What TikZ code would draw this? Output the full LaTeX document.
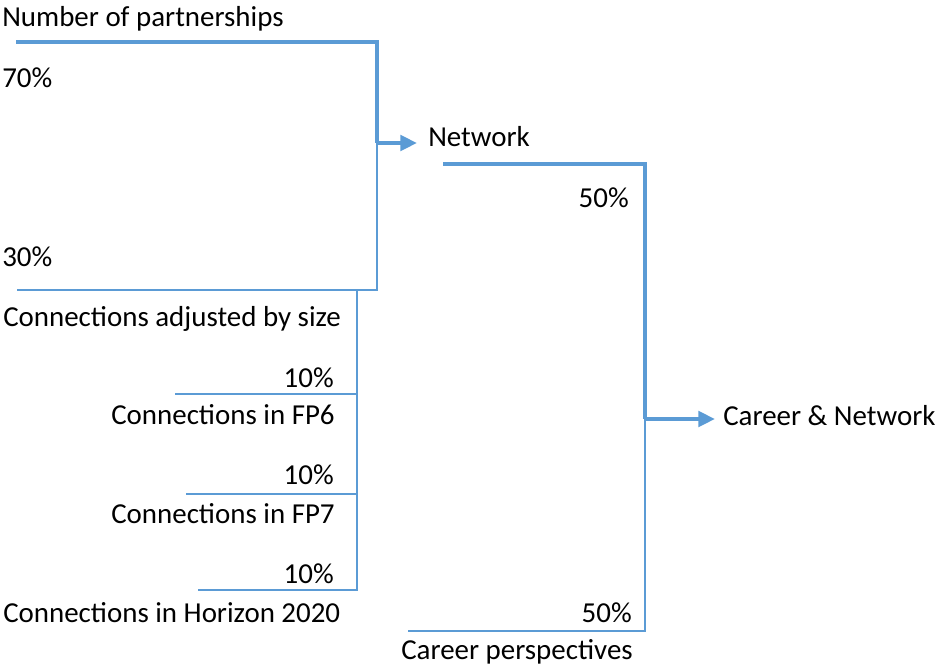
\documentclass[tikz,border=0pt]{standalone}
\usepackage{fontspec}
\setmainfont{Carlito}
\usetikzlibrary{arrows.meta}
\definecolor{linkblue}{HTML}{5B9BD5}
\begin{document}
\begin{tikzpicture}[x=0.75pt,y=-0.75pt,
  lbl/.style={inner sep=0pt,font=\fontsize{21.7}{26}\selectfont},
  strong/.style={draw=linkblue,line width=3pt},
  weak/.style={draw=linkblue,line width=1.2pt},
  tip/.style={-{Triangle[length=12.5pt,width=11.5pt]}}]
\useasboundingbox (0,0) rectangle (937,668);

% labels
\node[lbl,anchor=base west] (np)  at (2,26)   {Number of partnerships};
\node[lbl,anchor=base west] (p70) at (2,87)   {70\%};
\node[lbl,anchor=base west] (p30) at (2,266)  {30\%};
\node[lbl,anchor=base west] (cas) at (3,326)  {Connections adjusted by size};
\node[lbl,anchor=base east] (t1)  at (334,387) {10\%};
\node[lbl,anchor=base east] (fp6) at (335,424) {Connections in FP6};
\node[lbl,anchor=base east] (t2)  at (334,484) {10\%};
\node[lbl,anchor=base east] (fp7) at (335,523) {Connections in FP7};
\node[lbl,anchor=base east] (t3)  at (334,583) {10\%};
\node[lbl,anchor=base west] (h20) at (3,622)  {Connections in Horizon 2020};
\node[lbl,anchor=base west] (net) at (428,146) {Network};
\node[lbl,anchor=base east] (f1)  at (629,207) {50\%};
\node[lbl,anchor=base east] (f2)  at (632,622) {50\%};
\node[lbl,anchor=base west] (cp)  at (401,659) {Career perspectives};
\node[lbl,anchor=base west] (cn)  at (723,425) {Career \& Network};

% corner points of the first bracket
\coordinate (a0) at (16,42);
\coordinate (a1) at (377,42);
\coordinate (am) at (377,143);
\coordinate (aT) at (417,143);
\coordinate (a2) at (377,290);
\coordinate (a3) at (17,290);

% corner points of the connections bracket
\coordinate (b0) at (357,290);
\coordinate (b1) at (357,394);
\coordinate (b2) at (357,494);
\coordinate (b3) at (357,590);
\coordinate (c1) at (175,394);
\coordinate (c2) at (186,494);
\coordinate (c3) at (198,590);

% corner points of the final bracket
\coordinate (d0) at (443,164);
\coordinate (d1) at (645,164);
\coordinate (dm) at (645,419);
\coordinate (dT) at (715,419);
\coordinate (d2) at (645,631);
\coordinate (d3) at (408,631);

% number of partnerships + connections -> network
\draw[strong] (a0) -- (a1) -- (am);
\draw[strong,tip] (am) -- (aT);
\draw[weak] (am) -- (a2) -- (a3);

% three framework programmes -> connections adjusted by size
\draw[weak] (b0) -- (b3) -- (c3);
\draw[weak] (b1) -- (c1);
\draw[weak] (b2) -- (c2);

% network + career perspectives -> career & network
\draw[strong] (d0) -- (d1) -- (dm);
\draw[strong,tip] (dm) -- (dT);
\draw[weak] (dm) -- (d2) -- (d3);
\end{tikzpicture}
\end{document}
